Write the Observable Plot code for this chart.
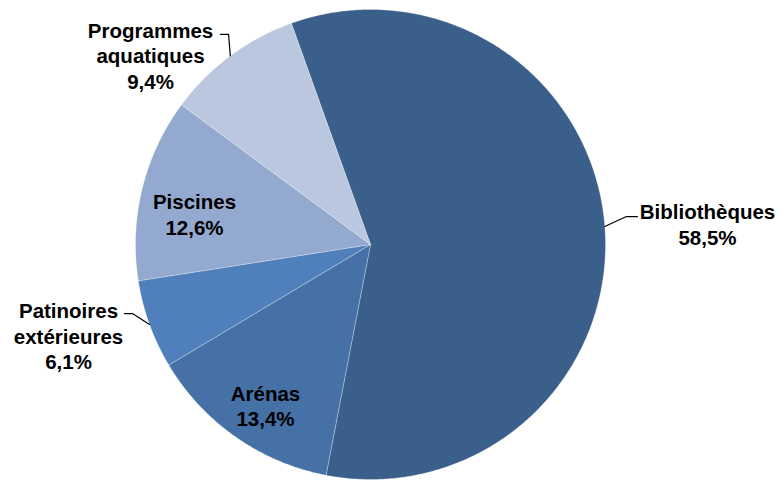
<!DOCTYPE html>
<html>
<head>
<meta charset="utf-8">
<script src="https://cdn.jsdelivr.net/npm/d3@7"></script>
<script src="https://cdn.jsdelivr.net/npm/@observablehq/plot@0.6"></script>
<style>
  html, body { margin: 0; padding: 0; background: #fff; }
  #chart svg { display: block; }
</style>
</head>
<body>
<div id="chart"></div>
<script>
// ---- Data ----
const categories = ["Bibliothèques", "Arénas", "Patinoires\nextérieures", "Piscines", "Programmes\naquatiques"];
const values = [58.5, 13.4, 6.1, 12.6, 9.4];
const valueLabels = ["58,5%", "13,4%", "6,1%", "12,6%", "9,4%"];
const colors = ["#3a5f8b", "#4571a7", "#4f80bc", "#94a9cf", "#bac7df"];

// ---- Layout (unit-radius coordinates) ----
const W = 781, H = 481, R = 235, CX = 370, CY = 244;
const startAngle = -19.7; // degrees, clockwise from 12 o'clock
const labelPos = [[1.434, 0.087], [-0.447, -0.685], [-1.285, -0.387], [-0.749, 0.130], [-0.936, 0.806]];
// leader: [elbow, end] for outside labels; null for inside
const leaders = [[[1.089, 0.119], [1.136, 0.119]], null, [[-1.013, -0.294], [-1.047, -0.294]], null, [[-0.604, 0.894], [-0.638, 0.894]]];

const total = d3.sum(values);
const rad = d => d * Math.PI / 180;
let acc = startAngle;
const slicePts = [];
const mids = [];
values.forEach((v, i) => {
  const a0 = acc, a1 = acc + v / total * 360;
  acc = a1;
  mids.push((a0 + a1) / 2);
  slicePts.push({k: i, x: 0, y: 0, color: colors[i]});
  const n = Math.max(2, Math.ceil((a1 - a0) * 2));
  for (let j = 0; j <= n; j++) {
    const a = rad(a0 + (a1 - a0) * j / n);
    slicePts.push({k: i, x: Math.sin(a), y: Math.cos(a), color: colors[i]});
  }
  slicePts.push({k: i, x: 0, y: 0, color: colors[i]});
});

const labels = categories.map((c, i) => ({text: c + "\n" + valueLabels[i], x: labelPos[i][0], y: labelPos[i][1]}));
const leaderPts = [];
leaders.forEach((l, i) => {
  if (!l) return;
  const a = rad(mids[i]);
  leaderPts.push({k: i, x: Math.sin(a), y: Math.cos(a)});
  leaderPts.push({k: i, x: l[0][0], y: l[0][1]});
  leaderPts.push({k: i, x: l[1][0], y: l[1][1]});
});

const chart = Plot.plot({
  width: W, height: H,
  margin: 0,
  style: {fontFamily: "'Liberation Sans', Arial, Helvetica, sans-serif", background: "#fff"},
  x: {domain: [-CX / R, (W - CX) / R], axis: null},
  y: {domain: [-(H - CY) / R, CY / R], axis: null},
  color: {type: "identity"},
  marks: [
    Plot.line(slicePts, {x: "x", y: "y", z: "k", fill: "color", stroke: "white", strokeWidth: 0.35, strokeOpacity: 0.8, curve: "linear"}),
    Plot.line(leaderPts, {x: "x", y: "y", z: "k", stroke: "black", strokeWidth: 1.2}),
    Plot.text(labels, {x: "x", y: "y", text: "text", fontSize: 20.5, fontWeight: "bold", fill: "black", lineHeight: 1.24, textAnchor: "middle"})
  ]
});
document.getElementById("chart").appendChild(chart);
</script>
</body>
</html>
